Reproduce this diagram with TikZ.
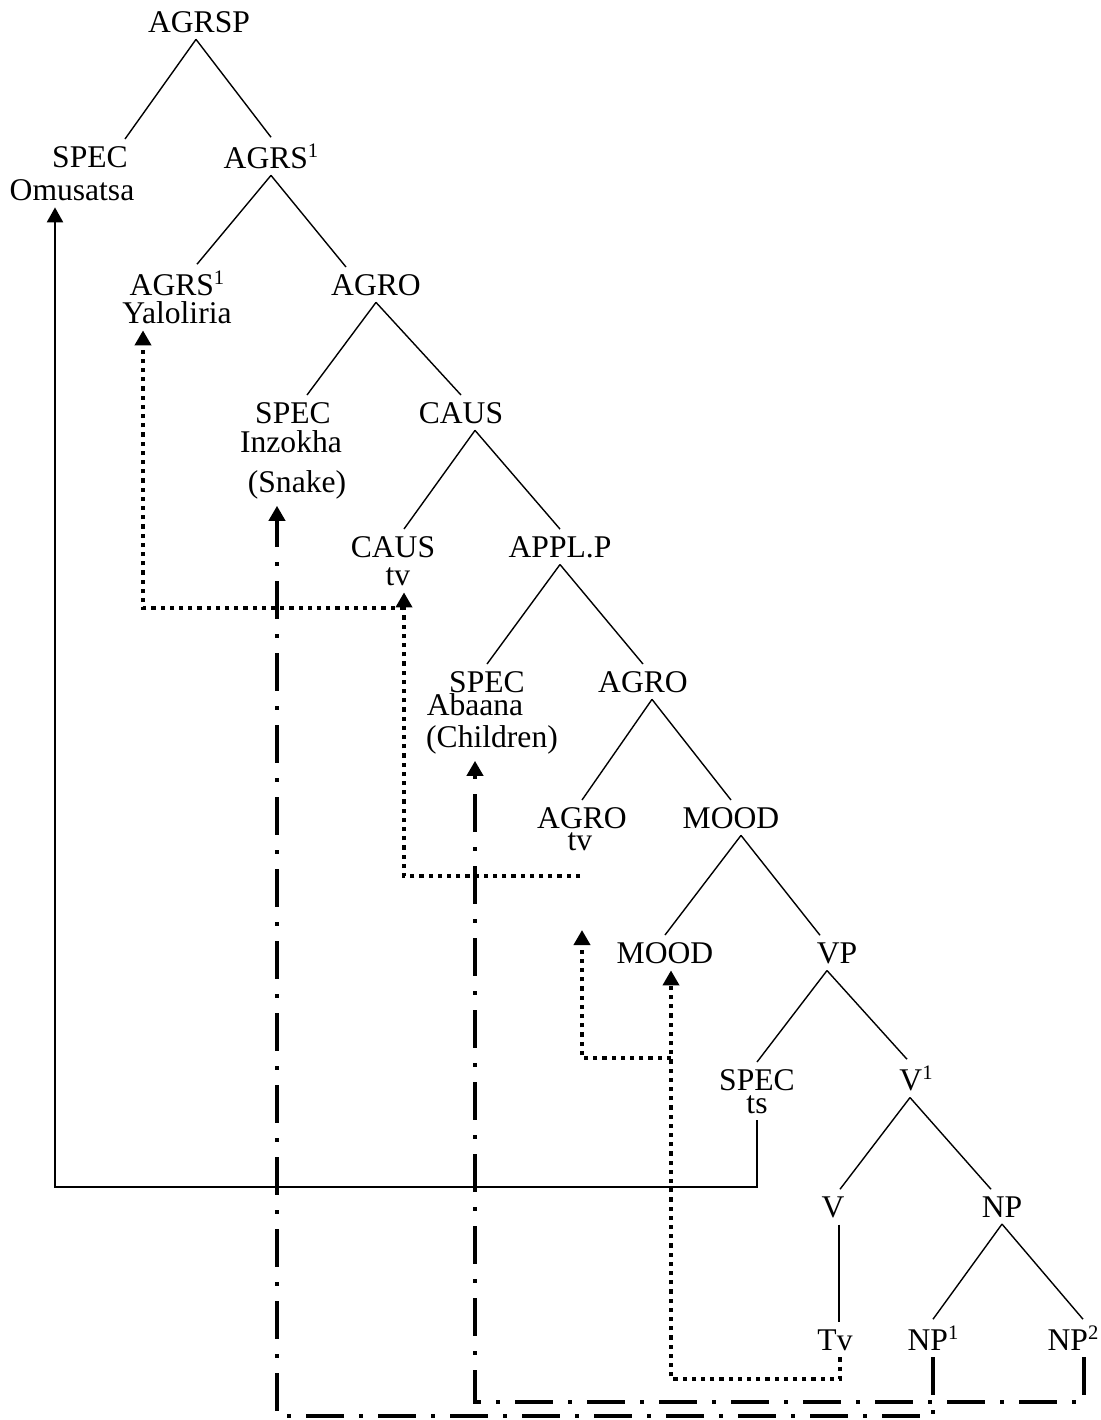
\documentclass[tikz,border=0pt]{standalone}
\usepackage{fontspec}
\setmainfont{Liberation Serif}
\usetikzlibrary{arrows.meta,calc}
\newcommand{\idx}[1]{\raisebox{0.32em}{\fontsize{10.3}{12}\selectfont #1}}
\begin{document}
\begin{tikzpicture}[>={Triangle[length=7.5pt,width=8pt]},x=0.5pt,y=-0.5pt,
	lbl/.style={anchor=base,font=\fontsize{15.8}{18}\selectfont},
	branch/.style={line width=0.7pt},
	movesolid/.style={line width=1.1pt,->},
	movedot/.style={line width=2.1pt,dash pattern=on 2.1pt off 2.5pt,->},
	movedash/.style={line width=2.2pt,dash pattern=on 19pt off 7.5pt on 2pt off 7.5pt,->}]
	\useasboundingbox (0,0) rectangle (1100,1420);
	% cac nut cua cay
	\node[lbl] (agrsp) at (199,32) {AGRSP};
	\node[lbl] (specA) at (90,167) {SPEC};
	\node[lbl] (omusatsa) at (72,200) {Omusatsa};
	\node[lbl] (agrsA) at (271,168) {AGRS\idx{1}};
	\node[lbl] (agrsB) at (177,295) {AGRS\idx{1}};
	\node[lbl] (yaloliria) at (177,323) {Yaloliria};
	\node[lbl] (agroA) at (376,295) {AGRO};
	\node[lbl] (specB) at (293,423) {SPEC};
	\node[lbl] (inzokha) at (291,452) {Inzokha};
	\node[lbl] (snake) at (297,492) {(Snake)};
	\node[lbl] (causA) at (461,423) {CAUS};
	\node[lbl] (causB) at (393,557) {CAUS};
	\node[lbl] (tvA) at (398,585) {tv};
	\node[lbl] (applp) at (560,557) {APPL.P};
	\node[lbl] (specC) at (487,692) {SPEC};
	\node[lbl] (abaana) at (475,715) {Abaana};
	\node[lbl] (children) at (492,747) {(Children)};
	\node[lbl] (agroB) at (643,692) {AGRO};
	\node[lbl] (agroC) at (582,828) {AGRO};
	\node[lbl] (tvB) at (580,850) {tv};
	\node[lbl] (moodA) at (731,828) {MOOD};
	\node[lbl] (moodB) at (665,963) {MOOD};
	\node[lbl] (vp) at (837,963) {VP};
	\node[lbl] (specD) at (757,1090) {SPEC};
	\node[lbl] (ts) at (757,1113) {ts};
	\node[lbl] (vbar) at (916,1090) {V\idx{1}};
	\node[lbl] (v) at (833,1217) {V};
	\node[lbl] (np) at (1002,1217) {NP};
	\node[lbl] (tv) at (835,1350) {Tv};
	\node[lbl] (npA) at (933,1350) {NP\idx{1}};
	\node[lbl] (npB) at (1073,1350) {NP\idx{2}};
	% cac nhanh
	\draw[branch] ($(agrsp.south)+(-3,0)$) -- ($(specA.north)+(35,0)$);
	\draw[branch] ($(agrsp.south)+(-3,0)$) -- (agrsA.north);
	\draw[branch] (agrsA.south) -- ($(agrsB.north)+(20,0)$);
	\draw[branch] (agrsA.south) -- ($(agroA.north)+(-30,0)$);
	\draw[branch] (agroA.south) -- ($(specB.north)+(14,0)$);
	\draw[branch] (agroA.south) -- (causA.north);
	\draw[branch] ($(causA.south)+(14,0)$) -- ($(causB.north)+(11,0)$);
	\draw[branch] ($(causA.south)+(14,0)$) -- (applp.north);
	\draw[branch] (applp.south) -- (specC.north);
	\draw[branch] (applp.south) -- (agroB.north);
	\draw[branch] ($(agroB.south)+(9,0)$) -- (agroC.north);
	\draw[branch] ($(agroB.south)+(9,0)$) -- (moodA.north);
	\draw[branch] ($(moodA.south)+(10,0)$) -- (moodB.north);
	\draw[branch] ($(moodA.south)+(10,0)$) -- ($(vp.north)+(-17,0)$);
	\draw[branch] ($(vp.south)+(-10,0)$) -- (specD.north);
	\draw[branch] ($(vp.south)+(-10,0)$) -- ($(vbar.north)+(-9,0)$);
	\draw[branch] ($(vbar.south)+(-6,0)$) -- ($(v.north)+(7,0)$);
	\draw[branch] ($(vbar.south)+(-6,0)$) -- ($(np.north)+(-11,0)$);
	\draw[branch] ($(v.south)+(6,0)$) -- ($(tv.north)+(4,0)$);
	\draw[branch] (np.south) -- (npA.north);
	\draw[branch] (np.south) -- ($(npB.north)+(10,0)$);
	% duong di chuyen lien
	\coordinate (s1) at (55,1187);
	\draw[movesolid] (ts.south) |- (s1) -- (s1 |- omusatsa.south);
	% duong cham
	\coordinate (d1) at (580,876);
	\coordinate (d2) at (404,876);
	\draw[movedot] (d1) -- (d2) -- (d2 |- tvA.south);
	\coordinate (d3) at (404,608);
	\coordinate (d4) at (143,608);
	\draw[movedot] (d3) -- (d4) -- (d4 |- yaloliria.south);
	\coordinate (d5) at (840,1379);
	\coordinate (d6) at (671,1379);
	\draw[movedot] (d5 |- tv.south) -- (d5) -- (d6) -- (d6 |- moodB.south);
	\coordinate (d7) at (671,1058);
	\coordinate (d8) at (582,1058);
	\coordinate (d9) at (582,930);
	\draw[movedot] (d7) -- (d8) -- (d9);
	% duong gach cham
	\coordinate (q1) at (1084,1402);
	\coordinate (q2) at (475,1402);
	\draw[movedash] (q1 |- npB.south) -- (q1) -- (q2) -- (q2 |- children.south);
	\coordinate (q3) at (933,1416);
	\coordinate (q4) at (277,1416);
	\draw[movedash] (npA.south) -- (q3) -- (q4) -- (q4 |- snake.south);
\end{tikzpicture}
\end{document}
